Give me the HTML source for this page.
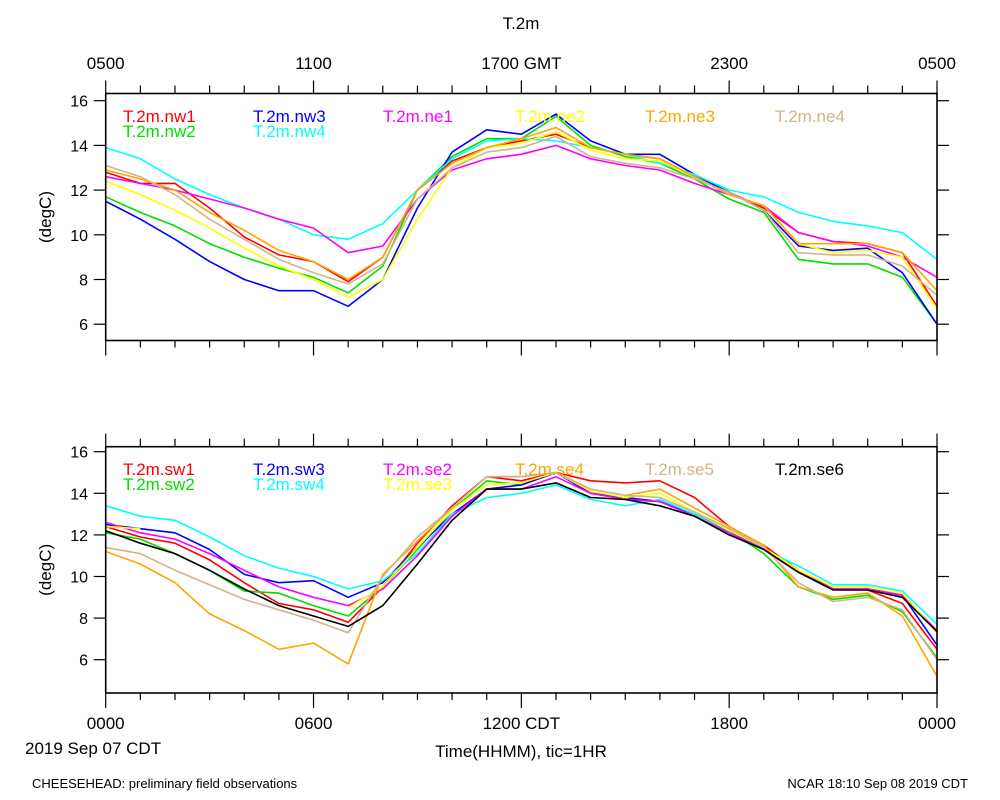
<!DOCTYPE html>
<html><head><meta charset="utf-8"><style>
body{margin:0;background:#fff;}
svg{display:block;font-family:"Liberation Sans",sans-serif;}
</style></head><body>
<svg id="c" width="1000" height="800" viewBox="0 0 1000 800"></svg>
<script>
const hours=[0,1,2,3,4,5,6,7,8,9,10,11,12,13,14,15,16,17,18,19,20,21,22,23,24];
const topNames=["T.2m.nw1","T.2m.nw2","T.2m.nw3","T.2m.nw4","T.2m.ne1","T.2m.ne2","T.2m.ne3","T.2m.ne4"];
const topColors=["#ff0000","#00e000","#0000ff","#00ffff","#ff00ff","#ffff00","#ffa500","#d2b48c"];
const nw1=[12.8,12.3,12.3,11.2,9.9,9.1,8.8,7.9,9.0,12.0,13.3,13.9,14.2,14.5,13.9,13.6,13.4,12.6,11.9,11.2,10.1,9.7,9.6,9.2,6.8];
const nw2=[11.7,11.0,10.4,9.6,9.0,8.5,8.1,7.4,8.6,12.0,13.5,14.3,14.3,15.3,14.0,13.5,13.2,12.5,11.6,11.0,8.9,8.7,8.7,8.1,6.0];
const nw3=[11.5,10.7,9.8,8.8,8.0,7.5,7.5,6.8,8.0,11.2,13.7,14.7,14.5,15.4,14.2,13.6,13.6,12.7,11.9,11.1,9.5,9.3,9.4,8.3,6.0];
const nw4=[13.9,13.4,12.5,11.8,11.2,10.7,10.0,9.8,10.5,12.0,13.4,14.2,14.3,14.2,13.9,13.6,13.2,12.7,12.0,11.7,11.0,10.6,10.4,10.1,8.9];
const ne1=[12.6,12.3,12.0,11.6,11.2,10.7,10.3,9.2,9.5,11.6,12.9,13.4,13.6,14.0,13.4,13.1,12.9,12.3,11.8,11.3,10.1,9.7,9.5,9.0,8.1];
const ne2=[12.4,11.8,11.1,10.3,9.4,8.6,8.0,7.2,8.0,10.7,13.0,13.9,14.1,14.6,13.8,13.4,13.3,12.6,11.8,11.3,9.6,9.2,9.3,9.0,6.7];
const ne3=[12.9,12.5,12.0,11.0,10.2,9.3,8.8,8.0,9.0,12.0,13.2,13.9,14.3,14.8,13.9,13.6,13.4,12.6,11.8,11.3,9.6,9.6,9.6,9.2,7.5];
const ne4=[13.1,12.6,11.8,10.7,9.8,8.9,8.3,7.8,8.7,11.6,13.0,13.7,13.9,14.4,13.5,13.2,13.0,12.5,11.9,11.1,9.2,9.1,9.1,8.6,7.3];
const topSeries=[nw1,nw2,nw3,nw4,ne1,ne2,ne3,ne4];
const botNames=["T.2m.sw1","T.2m.sw2","T.2m.sw3","T.2m.sw4","T.2m.se2","T.2m.se3","T.2m.se4","T.2m.se5","T.2m.se6"];
const botColors=["#ff0000","#00e000","#0000ff","#00ffff","#ff00ff","#ffff00","#ffa500","#d2b48c","#000000"];
const sw1=[12.4,11.9,11.6,10.8,9.7,8.7,8.4,7.8,9.5,11.6,13.4,14.8,14.6,15.0,14.6,14.5,14.6,13.8,12.4,11.5,10.3,9.4,9.35,8.7,6.5];
const sw2=[12.1,11.8,11.1,10.3,9.3,9.2,8.6,8.1,9.5,11.3,13.2,14.6,14.4,15.0,14.0,13.8,13.6,13.0,12.2,11.1,9.5,8.9,9.1,8.3,6.1];
const sw3=[12.5,12.3,12.1,11.3,10.1,9.7,9.8,9.0,9.7,11.4,13.0,14.2,14.4,15.0,14.0,13.8,13.6,13.0,12.2,11.3,10.2,9.4,9.4,9.1,6.7];
const sw4=[13.4,12.9,12.7,11.9,11.0,10.4,10.0,9.4,9.8,11.1,13.0,13.8,14.0,14.4,13.7,13.4,13.7,13.0,12.1,11.3,10.5,9.6,9.6,9.3,7.7];
const se2=[12.6,12.1,11.8,11.1,10.3,9.5,9.0,8.6,9.4,11.0,12.9,14.2,14.2,14.8,14.0,13.7,13.6,12.9,12.1,11.3,10.2,9.4,9.4,9.1,7.4];
const se3=[12.4,12.3,null,null,null,null,null,8.5,9.5,11.4,13.2,14.4,14.5,15.0,14.1,13.8,14.0,13.1,12.2,11.4,10.3,9.5,9.5,9.2,7.3];
const se4=[11.2,10.6,9.7,8.2,7.4,6.5,6.8,5.8,10.1,11.7,13.3,14.8,14.8,15.0,14.2,13.9,14.2,13.3,12.4,11.5,9.5,9.0,9.2,8.1,5.2];
const se5=[11.4,11.1,10.3,9.6,8.9,8.4,7.9,7.3,10.0,11.9,13.3,14.8,14.8,15.0,14.2,13.9,13.8,13.1,12.3,11.4,9.7,8.8,9.0,8.4,6.0];
const se6=[12.2,11.6,11.1,10.3,9.4,8.6,8.1,7.6,8.6,10.6,12.7,14.2,14.2,14.5,13.8,13.7,13.4,12.9,12.0,11.3,10.2,9.35,9.35,9.0,7.35];
const botSeries=[sw1,sw2,sw3,sw4,se2,se3,se4,se5,se6];
const yTicks=[6,8,10,12,14,16];
const topXLabels=["0500","1100","1700 GMT","2300","0500"];
const botXLabels=["0000","0600","1200 CDT","1800","0000"];

const svg=document.getElementById('c');
const NS="http://www.w3.org/2000/svg";
function mk(tag,attrs,parent){const e=document.createElementNS(NS,tag);for(const k in attrs)e.setAttribute(k,attrs[k]);(parent||svg).appendChild(e);return e;}
const X0=105.7,X1=937;
function xs(h){return X0+(X1-X0)*h/24;}

function panel(top,bottom,y16,pxPerDeg,series,names,colors,pname,xlabels,labelY,legendY){
  const g=mk('g',{});
  
  
  const ys=v=>y16+(16-v)*pxPerDeg;
  // series
  series.forEach((s,i)=>{
    let d="",pen=false;
    s.forEach((v,j)=>{if(v===null){pen=false;return;}d+=(pen?"L":"M")+xs(hours[j]).toFixed(1)+","+ys(v).toFixed(1);pen=true;});
    const p=mk('path',{d:d,fill:'none',stroke:colors[i],'stroke-width':1.6,'stroke-linejoin':'round'},g);
    
    
  });
  const box=mk('rect',{x:X0,y:top,width:X1-X0,height:bottom-top,fill:'none',stroke:'#000','stroke-width':1.6},g);
  
  
  // x ticks
  hours.forEach(h=>{
    const maj=h%6===0;const x=xs(h);
    mk('line',{x1:x,x2:x,y1:top,y2:top-(maj?13:8),stroke:'#000','stroke-width':1.2},g);
    mk('line',{x1:x,x2:x,y1:bottom,y2:bottom+(maj?15:7),stroke:'#000','stroke-width':1.2},g);
  });
  // y ticks
  yTicks.forEach(v=>{
    const y=ys(v);
    mk('line',{x1:X0,x2:X0-12,y1:y,y2:y,stroke:'#000','stroke-width':1.2},g);
    mk('line',{x1:X1,x2:X1+12,y1:y,y2:y,stroke:'#000','stroke-width':1.2},g);
    const t=mk('text',{x:88,y:y+6,'text-anchor':'end','font-size':16},g);
    t.textContent=v;
    
    
  });
  const yt=mk('text',{x:0,y:0,transform:`translate(51,${(top+bottom)/2}) rotate(-90)`,'text-anchor':'middle','font-size':17},g);
  yt.textContent="(degC)";
  
  
  if(xlabels){xlabels.forEach((l,i)=>{
    const t=mk('text',{x:xs(i*6),y:labelY,'text-anchor':'middle','font-size':17},g);
    t.textContent=l;
    
    
  });}
  // legend
  const cols=[123,253,383,515,645,775];
  names.forEach((n,i)=>{
    let col,row;
    if(i<4){col=Math.floor(i/2);row=i%2;}
    else if(names.length===9&&(i===4||i===5)){col=2;row=i-4;}
    else{col=names.length===9?i-3:i-2;row=0;}
    const t=mk('text',{x:cols[col],y:legendY+row*15,'font-size':17,fill:colors[i]},g);
    t.textContent=n;
    
    
  });
}
panel(93.5,340.5,100.7,22.35,topSeries,topNames,topColors,'top',topXLabels,69,122);
panel(446.7,693,451.7,20.8,botSeries,botNames,botColors,'bottom',botXLabels,729,475);

function txt(s,x,y,size,anchor,name){const t=mk('text',{x:x,y:y,'font-size':size,'text-anchor':anchor});t.textContent=s;

}
txt("T.2m",521,29,17,"middle","chart-title");
txt("2019 Sep 07 CDT",25,754,17,"start","date-label");
txt("Time(HHMM), tic=1HR",521,757,17,"middle","x-axis-title");
txt("CHEESEHEAD: preliminary field observations",32,788,13,"start","footer-left");
txt("NCAR 18:10 Sep 08 2019 CDT",968,788,13,"end","footer-right");
</script>
</body></html>
